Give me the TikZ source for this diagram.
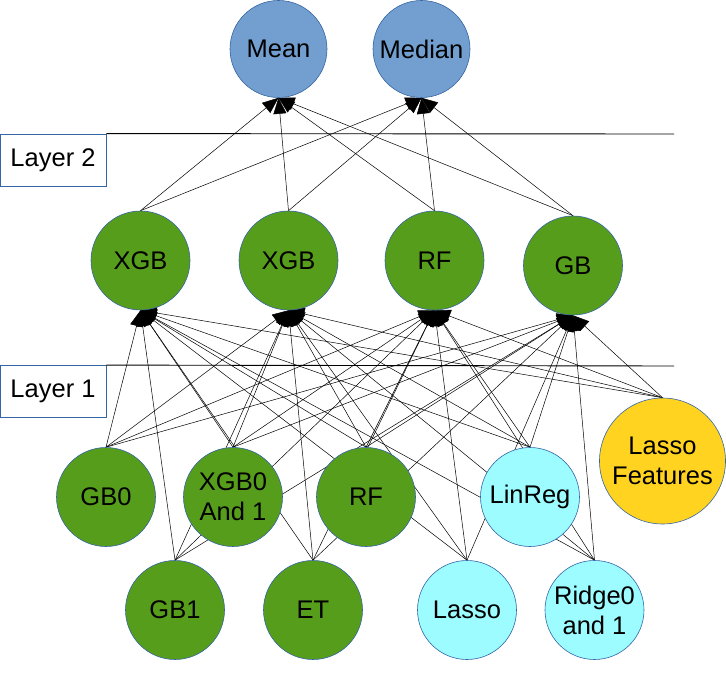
\documentclass[tikz,border=0pt]{standalone}
\usepackage{fontspec}
\setmainfont{Liberation Sans}
\usepackage{xcolor}
\usepackage{tikz}
\usetikzlibrary{arrows.meta}
\pgfdeclarelayer{back}
\pgfsetlayers{back,main}
\definecolor{outline}{HTML}{3465A4}
\definecolor{meanblue}{HTML}{729FCF}
\definecolor{modelgreen}{HTML}{579D1C}
\definecolor{linearcyan}{HTML}{9CFCFF}
\definecolor{featyellow}{HTML}{FFD320}

\begin{document}
\begin{tikzpicture}[x=1pt, y=-1pt,
    every node/.style={font=\fontsize{25.5}{30}\selectfont, align=center},
    model/.style={circle, draw=outline, line width=0.6pt, inner sep=0pt, minimum size=99pt},
    combiner/.style={model, fill=meanblue, minimum size=97pt},
    tree/.style={model, fill=modelgreen},
    linear/.style={model, fill=linearcyan},
    features/.style={model, fill=featyellow, minimum size=126pt},
    layerbox/.style={draw=outline, line width=0.8pt, fill=white, minimum width=106pt, minimum height=52pt, inner sep=0pt},
    link/.style={line width=0.5pt, -{Triangle[length=16pt,width=13pt]}}]
    \useasboundingbox (0,0) rectangle (726,679);

    \node[combiner] (mean) at (278.5,49) {Mean};
    \node[combiner] (median) at (421.5,49) {Median};

    \node[tree] (xgbA) at (140.5,260.5) {XGB};
    \node[tree] (xgbB) at (288.5,260.5) {XGB};
    \node[tree] (rfB) at (434.5,260.5) {RF};
    \node[tree] (gbB) at (573,265.5) {GB};

    \node[tree] (gb0) at (106,497) {GB0};
    \node[tree] (xgb01) at (233,497) {XGB0\\And 1};
    \node[tree] (rf1) at (366,497) {RF};
    \node[linear] (linreg) at (530,497) {LinReg};
    \node[features] (lassofeat) at (662.5,461) {Lasso\\Features};

    \node[tree] (gb1) at (175,610) {GB1};
    \node[tree] (et) at (313,610) {ET};
    \node[linear] (lasso) at (467,610) {Lasso};
    \node[linear] (ridge) at (594.5,610) {Ridge0\\and 1};

    \node[layerbox] (layer2) at (53,160) {Layer 2};
    \node[layerbox] (layer1) at (53,391.5) {Layer 1};
    \coordinate (rule2end) at (674,134);
    \coordinate (rule1end) at (674,366);
    \draw[line width=0.9pt] (layer2.north east) -- (rule2end);
    \draw[line width=0.9pt] (layer1.north east) -- (rule1end);

    \begin{pgfonlayer}{back}
    \begin{scope}[link]
      \foreach \src in {gb0,xgb01,rf1,linreg,lassofeat,gb1,et,lasso,ridge}
        \foreach \dst in {xgbA,xgbB,rfB,gbB}
          \draw[link] (\src.north) -- (\dst.south);
      \foreach \src in {xgbA,xgbB,rfB,gbB}
        \foreach \dst in {mean,median}
          \draw[link] (\src.north) -- (\dst.south);
    \end{scope}
    \end{pgfonlayer}
  \end{tikzpicture}
\end{document}
